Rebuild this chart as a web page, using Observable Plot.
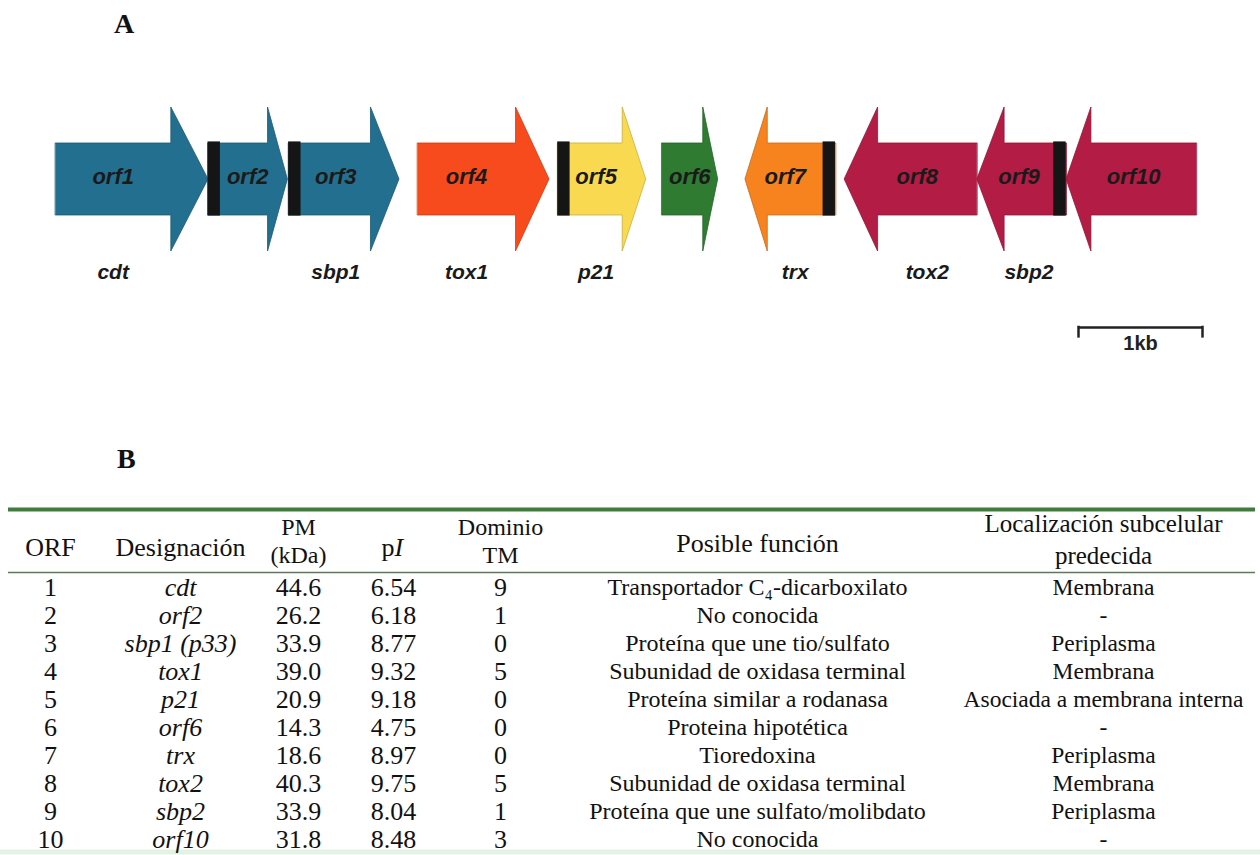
<!DOCTYPE html>
<html><head><meta charset="utf-8">
<script src="https://cdn.jsdelivr.net/npm/d3@7"></script>
<script src="https://cdn.jsdelivr.net/npm/@observablehq/plot@0.6"></script>
<style>
body{margin:0;background:#fff;}
#wrap{position:relative;width:1260px;height:855px;overflow:hidden;background:#fff;}
.panel{position:absolute;font-family:"Liberation Serif","Times New Roman",serif;font-weight:bold;font-size:28px;color:#111;}
#plotA{position:absolute;left:0;top:0;}
#plotB{position:absolute;left:0;top:490px;}
</style></head>
<body>
<div id="wrap">
  <div class="panel" style="left:114px;top:8px;">A</div>
  <div class="panel" style="left:117px;top:443px;">B</div>
  <div id="plotA"></div>
  <div id="plotB"></div>
</div>
<script>
// ---------- Panel A data (gene map, kb) ----------
const genes      = ["orf1","orf2","orf3","orf4","orf5","orf6","orf7","orf8","orf9","orf10"];
const geneStart  = [0.00, 1.23, 1.88, 2.92, 4.05, 4.89, 5.56, 6.36, 7.43, 8.15];
const geneEnd    = [1.23, 1.87, 2.77, 3.98, 4.76, 5.34, 6.29, 7.43, 8.15, 9.20];
const headLen    = [0.30, 0.16, 0.23, 0.27, 0.19, 0.12, 0.18, 0.27, 0.22, 0.20];
const strand     = [1, 1, 1, 1, 1, 1, -1, -1, -1, -1];
const geneNames  = ["cdt", "", "sbp1", "tox1", "p21", "", "trx", "tox2", "sbp2", ""];
const geneColors = ["#236f8f","#236f8f","#236f8f","#f84b1d","#f9d94f","#2f7b32","#f7831f","#b31c44","#b31c44","#b31c44"];
const markerGenes = ["orf2","orf3","orf5","orf7","orf9"];   // black bars
const scaleBarStart = 8.25, scaleBarLen = 1, scaleBarLabel = "1kb";

// ---------- Panel B data (table) ----------
const orfNum = [1,2,3,4,5,6,7,8,9,10];
const designacion = ["cdt","orf2","sbp1 (p33)","tox1","p21","orf6","trx","tox2","sbp2","orf10"];
const pmKDa = [44.6,26.2,33.9,39.0,20.9,14.3,18.6,40.3,33.9,31.8];
const pIval = [6.54,6.18,8.77,9.32,9.18,4.75,8.97,9.75,8.04,8.48];
const dominioTM = [9,1,0,5,0,0,0,5,1,3];
const funcion = ["Transportador C\u2084-dicarboxilato","No conocida","Proteína que une tio/sulfato","Subunidad de oxidasa terminal","Proteína similar a rodanasa","Proteina hipotética","Tioredoxina","Subunidad de oxidasa terminal","Proteína que une sulfato/molibdato","No conocida"];
const localizacion = ["Membrana","-","Periplasma","Membrana","Asociada a membrana interna","-","Periplasma","Membrana","Periplasma","-"];

// ---------- Panel A ----------
const MW = 0.10; // marker width (kb)
function arrowPts(i){
  const s=geneStart[i], e=geneEnd[i], h=headLen[i];
  if(strand[i]>0){
    const hs=e-h;
    return [{x:s,y:-1},{x:hs,y:-1},{x:hs,y:-2},{x:e,y:0},{x:hs,y:2},{x:hs,y:1},{x:s,y:1}];
  } else {
    const he=s+h;
    return [{x:e,y:-1},{x:he,y:-1},{x:he,y:-2},{x:s,y:0},{x:he,y:2},{x:he,y:1},{x:e,y:1}];
  }
}
const hasMarker = i => markerGenes.includes(genes[i]);
function bodyRange(i){
  let s=geneStart[i], e=geneEnd[i], h=headLen[i];
  if(strand[i]>0){ if(hasMarker(i)) s+=MW; return [s, e-h]; }
  else { if(hasMarker(i)) e-=MW; return [s+h, e]; }
}
function labelX(i){
  const [a,b]=bodyRange(i);
  if(b-a<0.4) return (geneStart[i]+geneEnd[i])/2;
  return (a+b)/2 + (strand[i]<0 ? -0.08 : 0);
}
const idx = genes.map((d,i)=>i);
const markers = idx.filter(hasMarker).map(i=> strand[i]>0
  ? {x1:geneStart[i], x2:geneStart[i]+MW}
  : {x1:geneEnd[i]-MW, x2:geneEnd[i]});

const arrowMarks = idx.map(i => Plot.line(arrowPts(i), {
  x:"x", y:"y", curve:"linear-closed", fill: geneColors[i],
  stroke: d3.color(geneColors[i]).darker(0.6).formatHex(), strokeWidth: 0.8
}));

const sans = "Liberation Sans, Arial, sans-serif";
const plotA = Plot.plot({
  width:1260, height:380, margin:0,
  x:{domain:[-55/124, (1260-55)/124], axis:null},
  y:{domain:[-5.597, 4.958], range:[380,0], axis:null},
  style:{background:"transparent"},
  marks:[
    ...arrowMarks,
    Plot.rect(markers, {x1:"x1", x2:"x2", y1:-1.03, y2:1.03, fill:"#151515"}),
    Plot.text(idx, {x:i=>labelX(i), y:0.05, text:i=>genes[i], fontFamily:sans,
      fontStyle:"italic", fontWeight:"bold", fontSize:22, fill:"#1a1a1a"}),
    Plot.text(idx.filter(i=>geneNames[i]), {x:i=>{const [a,b]=bodyRange(i);return (a+b)/2;}, y:-2.6, text:i=>geneNames[i],
      fontFamily:sans, fontStyle:"italic", fontWeight:"bold", fontSize:21, fill:"#1a1a1a"}),
    Plot.ruleY([-4.125], {x1:scaleBarStart, x2:scaleBarStart+scaleBarLen, stroke:"#222", strokeWidth:2.5}),
    Plot.ruleX([scaleBarStart, scaleBarStart+scaleBarLen], {y1:-4.09, y2:-4.42, stroke:"#222", strokeWidth:2.5}),
    Plot.text([scaleBarLabel], {x:scaleBarStart+scaleBarLen/2, y:-4.57, text:d=>d,
      fontFamily:sans, fontWeight:"bold", fontSize:20, fill:"#222"})
  ]
});
document.getElementById("plotA").appendChild(plotA);

// ---------- Panel B ----------
const COL = {orf:50, des:180, pm:298, pi:393, tm:500, fun:757, loc:1103};
const FSZ = {orf:26, des:26, pm:26, pi:26, tm:26, fun:24, loc:23.5};
const rows = orfNum.map((n,i)=>({
  r:n, orf:String(n), des:designacion[i], pm:pmKDa[i].toFixed(1), pi:pIval[i].toFixed(2),
  tm:String(dominioTM[i]), fun:funcion[i], loc:localizacion[i]
}));
const serif = "Liberation Serif, Times New Roman, serif";
const HFS = 26;
const tcol = (key, extra={}) => Plot.text(rows, {x:COL[key], y:"r", text:key, fontFamily:serif, fontSize:FSZ[key], fill:"#111", ...extra});
const header = [
  {x:COL.orf, y:-0.43, t:"ORF", fs:26},
  {x:COL.des, y:-0.43, t:"Designación", fs:26},
  {x:COL.pm,  y:-1.16, t:"PM", fs:24},
  {x:COL.pm,  y:-0.14, t:"(kDa)", fs:24},
  {x:COL.tm,  y:-1.16, t:"Dominio", fs:24},
  {x:COL.tm,  y:-0.14, t:"TM", fs:24},
  {x:COL.fun, y:-0.57, t:"Posible función", fs:26},
  {x:COL.loc, y:-1.27, t:"Localización subcelular", fs:25},
  {x:COL.loc, y:-0.14, t:"predecida", fs:25}
];
const plotB = Plot.plot({
  width:1260, height:365, margin:0,
  x:{domain:[0,1260], range:[0,1260], axis:null},
  y:{domain:[-2.464, 10.571], range:[0,365], axis:null},
  style:{background:"transparent"},
  marks:[
    Plot.ruleY([-1.786], {x1:8, x2:1255, stroke:"#3f7d3d", strokeWidth:4}),
    Plot.ruleY([0.464], {x1:8, x2:1255, stroke:"#5b7a58", strokeWidth:1.6}),
    Plot.ruleY([10.45], {x1:0, x2:1260, stroke:"#e3f3e3", strokeWidth:5}),
    ...header.map(h => Plot.text([h], {x:"x", y:"y", text:"t", fontFamily:serif, fontSize:h.fs, fill:"#111"})),
    Plot.text(["p"], {x:COL.pi+1, y:-0.43, text:d=>d, textAnchor:"end", fontFamily:serif, fontSize:HFS, fill:"#111"}),
    Plot.text(["I"], {x:COL.pi+1, y:-0.43, text:d=>d, textAnchor:"start", fontStyle:"italic", fontFamily:serif, fontSize:HFS, fill:"#111"}),
    tcol("orf"),
    tcol("des", {fontStyle:"italic"}),
    tcol("pm"), tcol("pi"), tcol("tm"), tcol("fun"), tcol("loc")
  ]
});
document.getElementById("plotB").appendChild(plotB);
</script>
</body></html>
